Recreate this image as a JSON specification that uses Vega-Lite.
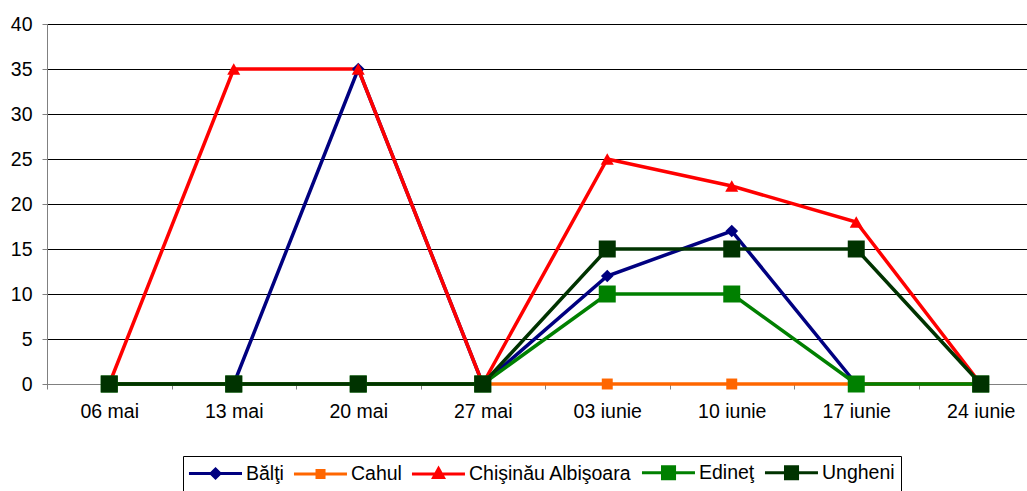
{
  "$schema": "https://vega.github.io/schema/vega-lite/v6.json",
  "width": 980,
  "height": 360,
  "autosize": {"type": "none"},
  "padding": {"left": 47, "top": 24, "right": 0, "bottom": 107},
  "background": "white",
  "config": {
    "view": {"stroke": null},
    "font": "Liberation Sans"
  },
  "data": {
    "values": [
      {"date": "06 mai", "series": "Bălţi", "value": 0},
      {"date": "13 mai", "series": "Bălţi", "value": 0},
      {"date": "20 mai", "series": "Bălţi", "value": 35},
      {"date": "27 mai", "series": "Bălţi", "value": 0},
      {"date": "03 iunie", "series": "Bălţi", "value": 12},
      {"date": "10 iunie", "series": "Bălţi", "value": 17},
      {"date": "17 iunie", "series": "Bălţi", "value": 0},
      {"date": "24 iunie", "series": "Bălţi", "value": 0},
      {"date": "06 mai", "series": "Cahul", "value": 0},
      {"date": "13 mai", "series": "Cahul", "value": 0},
      {"date": "20 mai", "series": "Cahul", "value": 0},
      {"date": "27 mai", "series": "Cahul", "value": 0},
      {"date": "03 iunie", "series": "Cahul", "value": 0},
      {"date": "10 iunie", "series": "Cahul", "value": 0},
      {"date": "17 iunie", "series": "Cahul", "value": 0},
      {"date": "24 iunie", "series": "Cahul", "value": 0},
      {"date": "06 mai", "series": "Chişinău Albişoara", "value": 0},
      {"date": "13 mai", "series": "Chişinău Albişoara", "value": 35},
      {"date": "20 mai", "series": "Chişinău Albişoara", "value": 35},
      {"date": "27 mai", "series": "Chişinău Albişoara", "value": 0},
      {"date": "03 iunie", "series": "Chişinău Albişoara", "value": 25},
      {"date": "10 iunie", "series": "Chişinău Albişoara", "value": 22},
      {"date": "17 iunie", "series": "Chişinău Albişoara", "value": 18},
      {"date": "24 iunie", "series": "Chişinău Albişoara", "value": 0},
      {"date": "06 mai", "series": "Edineţ", "value": 0},
      {"date": "13 mai", "series": "Edineţ", "value": 0},
      {"date": "20 mai", "series": "Edineţ", "value": 0},
      {"date": "27 mai", "series": "Edineţ", "value": 0},
      {"date": "03 iunie", "series": "Edineţ", "value": 10},
      {"date": "10 iunie", "series": "Edineţ", "value": 10},
      {"date": "17 iunie", "series": "Edineţ", "value": 0},
      {"date": "24 iunie", "series": "Edineţ", "value": 0},
      {"date": "06 mai", "series": "Ungheni", "value": 0},
      {"date": "13 mai", "series": "Ungheni", "value": 0},
      {"date": "20 mai", "series": "Ungheni", "value": 0},
      {"date": "27 mai", "series": "Ungheni", "value": 0},
      {"date": "03 iunie", "series": "Ungheni", "value": 15},
      {"date": "10 iunie", "series": "Ungheni", "value": 15},
      {"date": "17 iunie", "series": "Ungheni", "value": 15},
      {"date": "24 iunie", "series": "Ungheni", "value": 0}
    ]
  },
  "encoding": {
    "x": {
      "field": "date",
      "type": "ordinal",
      "bandPosition": 0.5,
      "scale": {
        "type": "band",
        "domain": ["06 mai", "13 mai", "20 mai", "27 mai", "03 iunie", "10 iunie", "17 iunie", "24 iunie"],
        "range": [0, 996],
        "paddingInner": 0,
        "paddingOuter": 0
      },
      "axis": {
        "title": null,
        "labelAngle": 0,
        "labelFont": "Liberation Sans",
        "labelFontSize": 19.5,
        "labelColor": "black",
        "labelPadding": 13,
        "tickBand": "extent",
        "tickColor": "#808080",
        "tickSize": 5,
        "domainColor": "#808080",
        "grid": false,
        "zindex": 0
      }
    },
    "y": {
      "field": "value",
      "type": "quantitative",
      "scale": {"domain": [0, 40], "nice": false},
      "axis": {
        "title": null,
        "values": [0, 5, 10, 15, 20, 25, 30, 35, 40],
        "labelFont": "Liberation Sans",
        "labelFontSize": 19.5,
        "labelColor": "black",
        "labelPadding": 10,
        "tickColor": "#808080",
        "tickSize": 5,
        "domainColor": "#808080",
        "grid": true,
        "gridColor": "black",
        "gridWidth": 1,
        "zindex": 0
      }
    },
    "color": {
      "field": "series",
      "type": "nominal",
      "scale": {
        "domain": ["Bălţi", "Cahul", "Chişinău Albişoara", "Edineţ", "Ungheni"],
        "range": ["#000080", "#FF6600", "#FF0000", "#008000", "#003300"]
      },
      "legend": {
        "title": null,
        "orient": "none",
        "legendX": 136,
        "legendY": 432,
        "direction": "horizontal",
        "columns": 5,
        "labelFont": "Liberation Sans",
        "labelFontSize": 19.5,
        "labelColor": "black",
        "labelLimit": 400,
        "labelOffset": 36,
        "columnPadding": 3,
        "padding": 6,
        "symbolSize": 324,
        "symbolStrokeWidth": 3,
        "strokeColor": "black",
        "fillColor": "white",
        "encode": {
          "symbols": {
            "update": {
              "shape": {"signal": "datum.index === 0 ? 'M-1.17,0L4.72,0M1.78,-0.5L2.28,0L1.78,0.5L1.28,0Z' : datum.index === 1 ? 'M-1.17,0L4.72,0M1.39,-0.39L2.17,-0.39L2.17,0.39L1.39,0.39Z' : datum.index === 2 ? 'M-1.17,0L4.72,0M1.78,-0.6L2.33,0.4L1.23,0.4Z' : 'M-1.17,0L4.72,0M1.11,-0.67L2.45,-0.67L2.45,0.67L1.11,0.67Z'"},
              "fill": {"scale": "color", "field": "value"},
              "stroke": {"scale": "color", "field": "value"},
              "opacity": {"value": 1},
              "fillOpacity": {"value": 1},
              "strokeOpacity": {"value": 1}
            }
          }
        }
      }
    }
  },
  "layer": [
    {
      "mark": {"type": "line", "strokeWidth": 3.5},
      "encoding": {}
    },
    {
      "transform": [{"filter": "datum.series === 'Bălţi'"}],
      "mark": {"type": "point", "filled": true, "opacity": 1, "shape": "diamond", "size": 160},
      "encoding": {}
    },
    {
      "transform": [{"filter": "datum.series === 'Cahul'"}],
      "mark": {"type": "point", "filled": true, "opacity": 1, "shape": "square", "size": 120},
      "encoding": {}
    },
    {
      "transform": [{"filter": "datum.series === 'Chişinău Albişoara'"}],
      "mark": {"type": "point", "filled": true, "opacity": 1, "shape": "triangle-up", "size": 170},
      "encoding": {}
    },
    {
      "transform": [{"filter": "datum.series === 'Edineţ' || datum.series === 'Ungheni'"}],
      "mark": {"type": "point", "filled": true, "opacity": 1, "shape": "square", "size": 289},
      "encoding": {}
    }
  ]
}
